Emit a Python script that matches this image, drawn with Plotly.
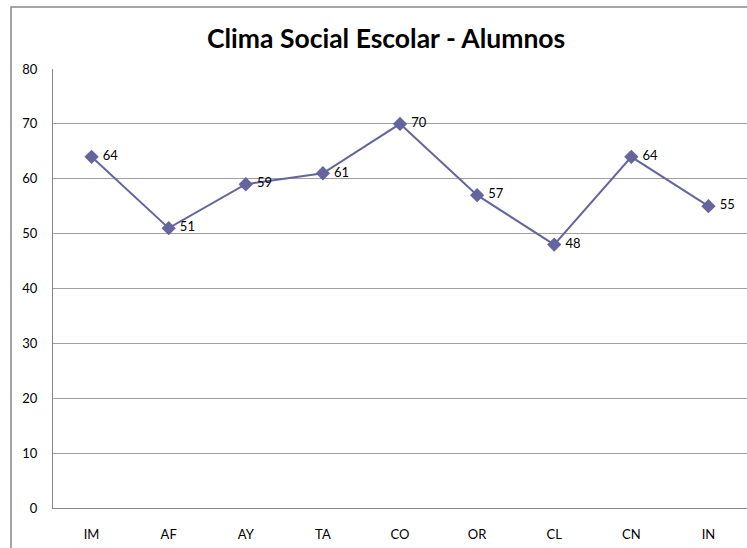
import plotly.graph_objects as go

categories = ["IM", "AF", "AY", "TA", "CO", "OR", "CL", "CN", "IN"]
values = [64, 51, 59, 61, 70, 57, 48, 64, 55]
y_ticks = [0, 10, 20, 30, 40, 50, 60, 70, 80]

FONT = "Lato, Open Sans, sans-serif"
LINE = "#64649E"

fig = go.Figure()
fig.add_trace(go.Scatter(
    x=categories, y=values, mode="lines+markers+text",
    text=[" " + str(v) for v in values], textposition="middle right",
    textfont=dict(family=FONT, size=13, color="#000000"),
    line=dict(color=LINE, width=2),
    marker=dict(symbol="diamond", size=11, color=LINE),
    cliponaxis=False, showlegend=False,
))

W, H = 747, 548
L, T = 53, 69
plot_bottom = 508
plot_right = 747
B = H - plot_bottom
R = W - plot_right
pw = W - L - R
ph = H - T - B

def px(x):
    return (x - L) / pw

def py(y):
    return (plot_bottom - y) / ph

fig.update_layout(
    width=W, height=H,
    margin=dict(l=L, r=R, t=T, b=B, autoexpand=False),
    paper_bgcolor="white", plot_bgcolor="white",
    font=dict(family=FONT, size=13, color="#000000"),
    annotations=[dict(
        text="<b>Clima Social Escolar - Alumnos</b>",
        xref="paper", yref="paper", x=px(386), y=py(38),
        xanchor="center", yanchor="middle", showarrow=False,
        font=dict(family=FONT, size=26.5, color="#000000"),
    )],
    shapes=[dict(
        type="rect", xref="paper", yref="paper",
        x0=px(11), y0=py(570), x1=px(770), y1=py(7),
        line=dict(color="#888888", width=1.5), layer="below",
    )],
)
fig.update_xaxes(
    type="category", showgrid=False, showline=True, linecolor="#868686",
    linewidth=1, ticks="", ticklabelstandoff=14, range=[-0.5, 8.5],
    tickfont=dict(family=FONT, size=13), automargin=False,
)
fig.update_yaxes(
    range=[0, 80], tickvals=y_ticks, showgrid=True, gridcolor="#A0A0A0",
    gridwidth=1, showline=True, linecolor="#868686", linewidth=1,
    zeroline=False, ticks="", ticklabelstandoff=12,
    tickfont=dict(family=FONT, size=13), automargin=False,
)

fig.write_html(
    "out.html",
    config={"displayModeBar": False},
    post_script="document.body.style.margin='0px';document.body.style.overflow='hidden';",
)
